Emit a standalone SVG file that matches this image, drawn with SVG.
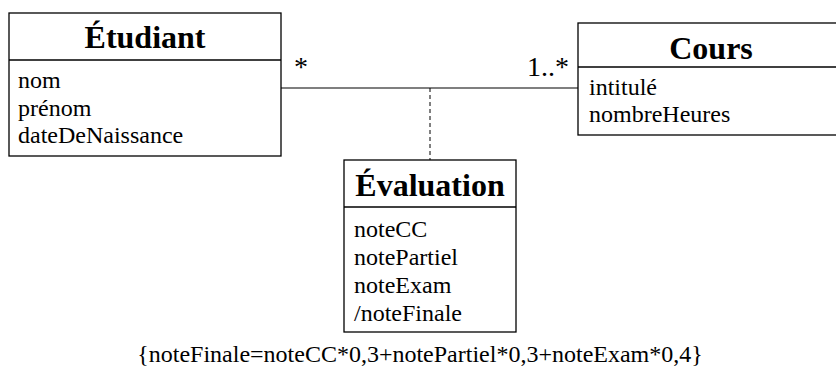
<svg xmlns="http://www.w3.org/2000/svg" width="836" height="369" viewBox="0 0 836 369">
<style>
.box{fill:#fff;stroke:#000;stroke-width:1.3}
.div{stroke:#000;stroke-width:1.3}
.title{font-family:"Liberation Serif","Times New Roman",serif;font-weight:bold;font-size:32px;text-anchor:middle;fill:#000}
.attr{font-family:"Liberation Serif","Times New Roman",serif;font-size:24px;fill:#000}
.mult{font-family:"Liberation Serif","Times New Roman",serif;font-size:28px;fill:#000}
.assoc{stroke:#555;stroke-width:1.5;fill:none}
.dash{stroke:#000;stroke-width:1;stroke-dasharray:4,3;fill:none}
</style>
<rect width="836" height="369" fill="#fff"/>
<g id="connectors">
<line class="assoc" x1="281" y1="88" x2="578" y2="88"/>
<line class="dash" x1="430" y1="88" x2="430" y2="160"/>
<text class="mult" x="294" y="76">*</text>
<text class="mult" x="569" y="76" text-anchor="end">1..*</text>
</g>
<g id="etudiant">
<rect class="box" x="9" y="13" width="272" height="143"/>
<line class="div" x1="9" y1="60" x2="281" y2="60"/>
<text class="title" x="145" y="48">Étudiant</text>
<text class="attr" x="18" y="88">nom</text>
<text class="attr" x="18" y="116">prénom</text>
<text class="attr" x="18" y="143">dateDeNaissance</text>
</g>
<g id="cours">
<rect class="box" x="578" y="23" width="262" height="112"/>
<line class="div" x1="578" y1="67" x2="840" y2="67"/>
<text class="title" x="711" y="59">Cours</text>
<text class="attr" x="589" y="95">intitulé</text>
<text class="attr" x="589" y="122">nombreHeures</text>
</g>
<g id="evaluation">
<rect class="box" x="344" y="160" width="172" height="172"/>
<line class="div" x1="344" y1="207" x2="516" y2="207"/>
<text class="title" x="430" y="196">Évaluation</text>
<text class="attr" x="354" y="237">noteCC</text>
<text class="attr" x="354" y="265">notePartiel</text>
<text class="attr" x="354" y="293">noteExam</text>
<text class="attr" x="354" y="321">/noteFinale</text>
</g>
<g id="constraint">
<text class="attr" x="420" y="362" text-anchor="middle">{noteFinale=noteCC*0,3+notePartiel*0,3+noteExam*0,4}</text>
</g>
</svg>
